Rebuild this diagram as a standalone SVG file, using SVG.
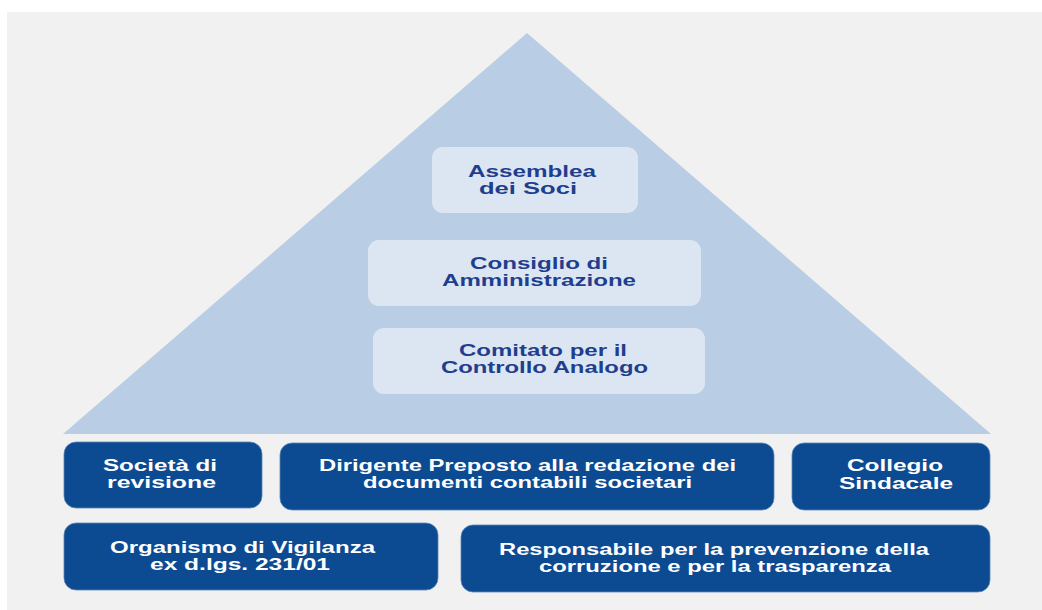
<svg xmlns="http://www.w3.org/2000/svg" width="1042" height="610" viewBox="0 0 1042 610">
  <style>
    .bg { fill: #f1f1f1; }
    .pyr { fill: #b9cde4; }
    .lbox { fill: #dce6f2; }
    .dbox { fill: #0c4a92; stroke: #5d86b8; stroke-width: 0.8; }
    text { font-family: "Liberation Sans", Arial, sans-serif; font-weight: bold; font-size: 16px; text-anchor: start; }
    .lt { fill: #1f3f8e; }
    .dt { fill: #ffffff; }
  </style>
  <rect x="0" y="0" width="1042" height="610" fill="#ffffff"/>
  <rect class="bg" x="7" y="12" width="1035" height="598"/>
  <polygon class="pyr" points="527,33 63,434 991,434"/>

  <g id="assemblea">
    <rect class="lbox" x="432" y="147" width="206" height="66" rx="11"/>
    <text class="lt" x="468" y="177" textLength="128" lengthAdjust="spacingAndGlyphs">Assemblea</text>
    <text class="lt" x="479" y="193.5" textLength="98" lengthAdjust="spacingAndGlyphs">dei Soci</text>
  </g>
  <g id="consiglio">
    <rect class="lbox" x="368" y="240" width="333" height="66" rx="11"/>
    <text class="lt" x="470" y="269" textLength="138" lengthAdjust="spacingAndGlyphs">Consiglio di</text>
    <text class="lt" x="442" y="286" textLength="194" lengthAdjust="spacingAndGlyphs">Amministrazione</text>
  </g>
  <g id="comitato">
    <rect class="lbox" x="373" y="328" width="332" height="66" rx="11"/>
    <text class="lt" x="459" y="356" textLength="168" lengthAdjust="spacingAndGlyphs">Comitato per il</text>
    <text class="lt" x="441" y="373" textLength="207" lengthAdjust="spacingAndGlyphs">Controllo Analogo</text>
  </g>

  <g id="societa">
    <rect class="dbox" x="64" y="442" width="198" height="66" rx="12"/>
    <text class="dt" x="103" y="471" textLength="114" lengthAdjust="spacingAndGlyphs">Società di</text>
    <text class="dt" x="107" y="488" textLength="109" lengthAdjust="spacingAndGlyphs">revisione</text>
  </g>
  <g id="dirigente">
    <rect class="dbox" x="280" y="443" width="494" height="67" rx="12"/>
    <text class="dt" x="319" y="471" textLength="417" lengthAdjust="spacingAndGlyphs">Dirigente Preposto alla redazione dei</text>
    <text class="dt" x="363" y="488" textLength="329" lengthAdjust="spacingAndGlyphs">documenti contabili societari</text>
  </g>
  <g id="collegio">
    <rect class="dbox" x="792" y="443" width="198" height="67" rx="12"/>
    <text class="dt" x="847" y="471" textLength="96" lengthAdjust="spacingAndGlyphs">Collegio</text>
    <text class="dt" x="839" y="489" textLength="114" lengthAdjust="spacingAndGlyphs">Sindacale</text>
  </g>
  <g id="organismo">
    <rect class="dbox" x="64" y="523" width="374" height="67" rx="12"/>
    <text class="dt" x="110" y="553" textLength="265" lengthAdjust="spacingAndGlyphs">Organismo di Vigilanza</text>
    <text class="dt" x="150" y="570" textLength="180" lengthAdjust="spacingAndGlyphs">ex d.lgs. 231/01</text>
  </g>
  <g id="responsabile">
    <rect class="dbox" x="461" y="525" width="529" height="67" rx="12"/>
    <text class="dt" x="499" y="555" textLength="430" lengthAdjust="spacingAndGlyphs">Responsabile per la prevenzione della</text>
    <text class="dt" x="539" y="572" textLength="352" lengthAdjust="spacingAndGlyphs">corruzione e per la trasparenza</text>
  </g>
  <g id="connectors"></g>
</svg>
